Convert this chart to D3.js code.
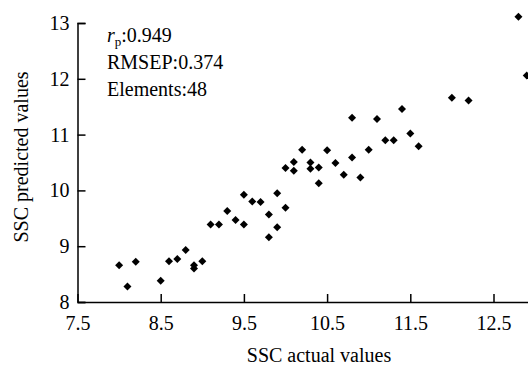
<!DOCTYPE html>
<html>
<head>
<meta charset="utf-8">
<script src="https://cdn.jsdelivr.net/npm/d3@7"></script>
<style>
  body { margin: 0; background: #fff; }
  svg { display: block; font-family: "Liberation Serif", "Times New Roman", serif; }
</style>
</head>
<body>
<svg width="528" height="366"></svg>
<script>
// measured SSC vs predicted SSC (48 samples)
const actual = [8.0, 8.1, 8.2, 8.5, 8.6, 8.7, 8.8, 8.9, 8.9, 9.0, 9.1, 9.2, 9.3,
  9.4, 9.5, 9.5, 9.6, 9.7, 9.8, 9.8, 9.9, 9.9, 10.0, 10.0, 10.1, 10.1, 10.2,
  10.3, 10.3, 10.4, 10.4, 10.5, 10.6, 10.7, 10.8, 10.8, 10.9, 11.0, 11.1,
  11.2, 11.3, 11.4, 11.5, 11.6, 12.0, 12.2, 12.8, 12.9];
const predicted = [8.66, 8.28, 8.72, 8.38, 8.73, 8.77, 8.93, 8.66, 8.60, 8.73, 9.39, 9.39, 9.63,
  9.47, 9.39, 9.92, 9.80, 9.79, 9.57, 9.16, 9.95, 9.34, 10.40, 9.69, 10.51, 10.35, 10.73,
  10.50, 10.39, 10.41, 10.13, 10.72, 10.49, 10.28, 11.30, 10.59, 10.23, 10.73, 11.28,
  10.90, 10.90, 11.46, 11.02, 10.79, 11.66, 11.61, 13.11, 12.06];
const xTicks = [7.5, 8.5, 9.5, 10.5, 11.5, 12.5];
const yTicks = [8, 9, 10, 11, 12, 13];
const stats = [['RMSEP', '0.374'], ['Elements', '48']];
const rp = '0.949';

const points = actual.map((a, i) => ({x: a, y: predicted[i]}));

const svg = d3.select('svg');
const x = d3.scaleLinear().domain([7.5, 13]).range([77.5, 535.1]);
const y = d3.scaleLinear().domain([8, 13]).range([302, 23]);

const fs = 20;

const xAxis = svg.append('g')
  .attr('transform', 'translate(0,302)')
  .call(d3.axisBottom(x).tickValues(xTicks).tickFormat(d3.format('.1f'))
    .tickSizeInner(-8).tickSizeOuter(0).tickPadding(14));

const yAxis = svg.append('g')
  .attr('transform', 'translate(77.5,0)')
  .call(d3.axisLeft(y).tickValues(yTicks).tickFormat(d3.format('d'))
    .tickSizeInner(-8).tickSizeOuter(-8).tickPadding(8));

[xAxis, yAxis].forEach(a => {
  a.selectAll('path, line').attr('stroke', '#000').attr('stroke-width', 1.5);
  a.selectAll('text').attr('fill', '#000').attr('font-size', fs)
    .attr('font-family', '"Liberation Serif", serif');
});

svg.append('g').selectAll('path').data(points)
  .enter().append('path')
    .attr('d', d3.symbol(d3.symbolSquare, 32))
    .attr('transform', d => `translate(${x(d.x)},${y(d.y)}) rotate(45)`)
    .attr('fill', '#000');

// annotation block
const note = svg.append('g').attr('font-size', fs).attr('fill', '#000');
const t1 = note.append('text').attr('x', 107).attr('y', 42);
t1.append('tspan').attr('font-style', 'italic').text('r');
t1.append('tspan').attr('font-size', 13).attr('dy', 4).text('p');
t1.append('tspan').attr('dy', -4).text(':' + rp);
note.selectAll('text.stat').data(stats)
  .enter().append('text')
    .attr('class', 'stat')
    .attr('x', 107)
    .attr('y', (d, i) => 69 + i * 27)
    .text(d => d[0] + ':' + d[1]);

svg.append('text')
  .attr('x', 319).attr('y', 362)
  .attr('text-anchor', 'middle')
  .attr('font-size', fs)
  .text('SSC actual values');

svg.append('text')
  .attr('transform', 'translate(28,157) rotate(-90)')
  .attr('text-anchor', 'middle')
  .attr('font-size', fs)
  .text('SSC predicted values');
</script>
</body>
</html>
